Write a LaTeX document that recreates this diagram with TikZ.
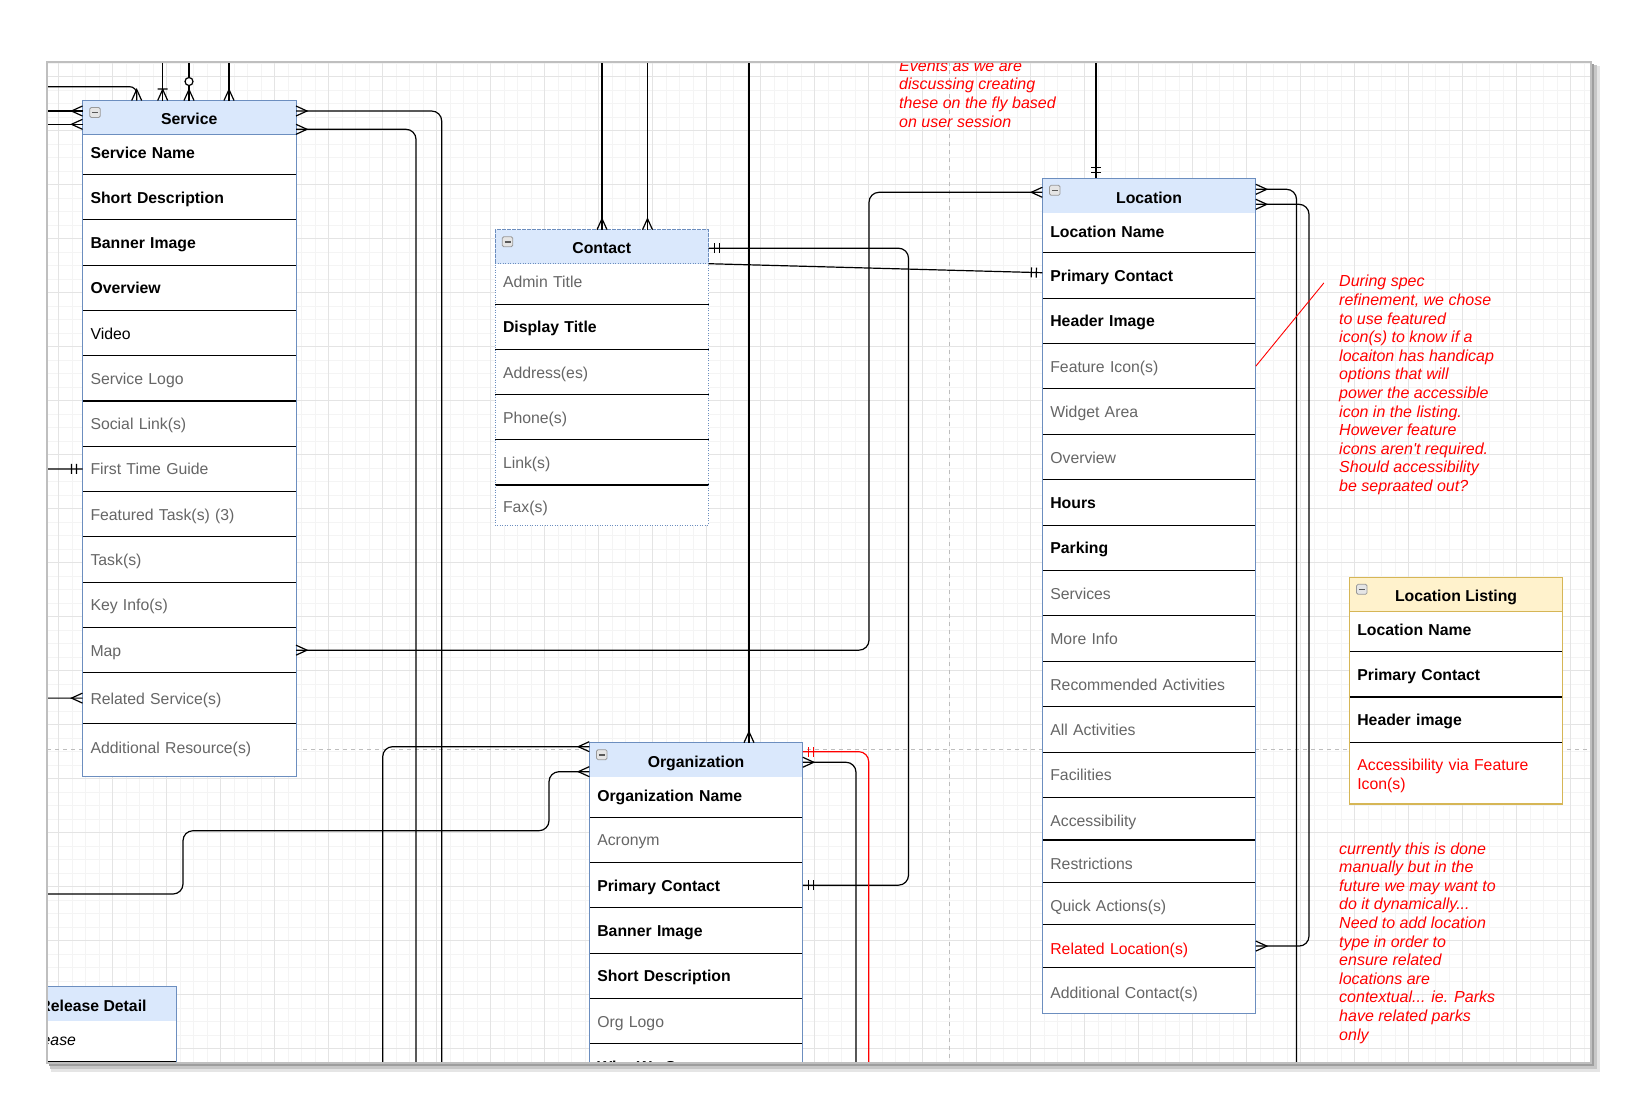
\documentclass[tikz,border=0pt]{standalone}
\usepackage{fontspec}
\setmainfont{Liberation Sans}[Ligatures=TeXOff]
\usetikzlibrary{positioning,calc}

\definecolor{tblblue}{HTML}{6C8EBF}
\definecolor{headblue}{HTML}{DAE8FC}
\definecolor{tblgold}{HTML}{D6B656}
\definecolor{headgold}{HTML}{FFF2CC}
\definecolor{txtgrey}{HTML}{666666}
\definecolor{gridlo}{HTML}{F4F4F4}
\definecolor{gridhi}{HTML}{E4E4E4}
\definecolor{guidegrey}{HTML}{BDBDBD}

\pgfdeclarearrow{
  name = crow,
  setup code = {\pgfarrowssettipend{0pt}\pgfarrowssetlineend{0pt}
    \pgfarrowssetbackend{-11pt}\pgfarrowssetvisualbackend{-11pt}},
  drawing code = {\pgfsetdash{}{0pt}
    \pgfpathmoveto{\pgfqpoint{0pt}{5pt}}\pgfpathlineto{\pgfqpoint{-11pt}{0pt}}
    \pgfpathlineto{\pgfqpoint{0pt}{-5pt}}\pgfusepathqstroke}
}
\pgfdeclarearrow{
  name = bars,
  setup code = {\pgfarrowssettipend{0pt}\pgfarrowssetlineend{0pt}
    \pgfarrowssetbackend{-12pt}\pgfarrowssetvisualbackend{-12pt}},
  drawing code = {\pgfsetdash{}{0pt}
    \pgfpathmoveto{\pgfqpoint{-6pt}{5pt}}\pgfpathlineto{\pgfqpoint{-6pt}{-5pt}}
    \pgfpathmoveto{\pgfqpoint{-11pt}{5pt}}\pgfpathlineto{\pgfqpoint{-11pt}{-5pt}}
    \pgfusepathqstroke}
}
\pgfdeclarearrow{
  name = onecrow,
  setup code = {\pgfarrowssettipend{0pt}\pgfarrowssetlineend{0pt}
    \pgfarrowssetbackend{-12pt}\pgfarrowssetvisualbackend{-12pt}},
  drawing code = {\pgfsetdash{}{0pt}
    \pgfpathmoveto{\pgfqpoint{0pt}{5pt}}\pgfpathlineto{\pgfqpoint{-11pt}{0pt}}
    \pgfpathlineto{\pgfqpoint{0pt}{-5pt}}
    \pgfpathmoveto{\pgfqpoint{-11.5pt}{5pt}}\pgfpathlineto{\pgfqpoint{-11.5pt}{-5pt}}
    \pgfusepathqstroke}
}
\pgfdeclarearrow{
  name = zerocrow,
  setup code = {\pgfarrowssettipend{0pt}\pgfarrowssetlineend{0pt}
    \pgfarrowssetbackend{-23pt}\pgfarrowssetvisualbackend{-23pt}},
  drawing code = {\pgfsetdash{}{0pt}
    \pgfpathmoveto{\pgfqpoint{0pt}{5pt}}\pgfpathlineto{\pgfqpoint{-11pt}{0pt}}
    \pgfpathlineto{\pgfqpoint{0pt}{-5pt}}\pgfusepathqstroke
    \pgfsetfillcolor{white}
    \pgfpathcircle{\pgfqpoint{-19pt}{0pt}}{4pt}\pgfusepathqfillstroke}
}

\tikzset{
  tblhead/.style={rectangle, draw=tblblue, fill=headblue, line width=1pt,
    anchor=north west, minimum width=213.5pt, minimum height=34pt,
    inner sep=0pt, outer sep=0pt, text height=14.5pt, text depth=0pt,
    font=\fontsize{15.8}{19}\selectfont\bfseries},
  tblrow/.style={rectangle, fill=white, inner xsep=8pt, inner ysep=0pt,
    outer sep=0pt, text width=197.5pt, minimum height=45.3pt, align=left,
    text height=12pt, text depth=0pt, font=\fontsize{15.8}{19}\selectfont},
  keyrow/.style={tblrow, font=\fontsize{15.8}{19}\selectfont\bfseries},
  greyrow/.style={tblrow, text=txtgrey},
  redrow/.style={tblrow, text=red},
  toprow/.style={minimum height=40pt, text depth=4pt},
  lowrow/.style={text height=16pt},
  sepline/.style={draw=black, line width=1.1pt},
  tblline/.style={draw=tblblue, line width=1pt},
  minusbox/.style={rectangle, draw=black!40, fill=black!10, rounded corners=1.5pt,
    minimum width=10.5pt, minimum height=10pt, inner sep=0pt, line width=0.8pt,
    path picture={\draw[black!65, line width=1.6pt]
      ([xshift=-3pt]path picture bounding box.center) --
      ([xshift=3pt]path picture bounding box.center);}},
  conn/.style={draw=black, line width=1.2pt, rounded corners=10pt},
  guide/.style={draw=guidegrey, line width=0.9pt, dash pattern=on 4pt off 4pt},
  gridminor/.style={draw=gridlo, line width=1pt},
  gridmajor/.style={draw=gridhi, line width=1pt},
  note/.style={anchor=north west, inner sep=0pt, align=left, text=red,
    font=\fontsize{16}{18.6}\selectfont\itshape}
}

\begin{document}
\begin{tikzpicture}[x=1pt,y=-1pt]
  \useasboundingbox[fill=white] (0,0) rectangle (1645,1093);
  \fill[black!10] (51,66) rectangle (1600,1072);
  \fill[black!22] (50,65) rectangle (1597,1069);
  \fill[black!38] (49,64) rectangle (1594,1066);
  \fill[white] (47,62) rectangle (1591,1063);

  \begin{scope}
    \clip (47,62) rectangle (1591,1063);
    \foreach \i in {0,...,117} \draw[gridminor] ({4.7+13.5*\i},62) -- ({4.7+13.5*\i},1063);
    \foreach \j in {0,...,77} \draw[gridminor] (47,{22.7+13.5*\j}) -- (1591,{22.7+13.5*\j});
    \foreach \i in {0,...,29} \draw[gridmajor] ({4.7+54*\i},62) -- ({4.7+54*\i},1063);
    \foreach \j in {0,...,19} \draw[gridmajor] (47,{22.7+54*\j}) -- (1591,{22.7+54*\j});
    \draw[guide] (949,62) -- (949,1063);
    \draw[guide] (47,749) -- (1591,749);

    \node[tblhead] (svc) at (82.5,100.5) {Service};
    \node[keyrow, toprow, below=0pt of svc] (svc1) {Service Name};
    \node[keyrow, below=0pt of svc1] (svc2) {Short Description};
    \node[keyrow, below=0pt of svc2] (svc3) {Banner Image};
    \node[keyrow, below=0pt of svc3] (svc4) {Overview};
    \node[tblrow, below=0pt of svc4] (svc5) {Video};
    \node[greyrow, below=0pt of svc5] (svc6) {Service Logo};
    \node[greyrow, below=0pt of svc6] (svc7) {Social Link(s)};
    \node[greyrow, below=0pt of svc7] (svc8) {First Time Guide};
    \node[greyrow, below=0pt of svc8] (svc9) {Featured Task(s) (3)};
    \node[greyrow, below=0pt of svc9] (svc10) {Task(s)};
    \node[greyrow, below=0pt of svc10] (svc11) {Key Info(s)};
    \node[greyrow, below=0pt of svc11] (svc12) {Map};
    \node[greyrow, minimum height=50.6pt, below=0pt of svc12] (svc13) {Related Service(s)};
    \node[greyrow, minimum height=53.4pt, text depth=6pt, below=0pt of svc13] (svc14) {Additional Resource(s)};
    \foreach \i in {1,...,13} \draw[sepline] (svc\i.south west) -- (svc\i.south east);
    \draw[tblline] (svc.north west) rectangle (svc14.south east);
    \node[minusbox] (svcI) at ([xshift=12.5pt,yshift=-12pt]svc.north west) {};

    \node[tblhead, dash pattern=on 1pt off 1.5pt] (con) at (495,229.7) {Contact};
    \node[greyrow, toprow, minimum height=40.5pt, below=0pt of con] (con1) {Admin Title};
    \node[keyrow, minimum height=45.2pt, below=0pt of con1] (con2) {Display Title};
    \node[greyrow, minimum height=45.2pt, below=0pt of con2] (con3) {Address(es)};
    \node[greyrow, minimum height=45.2pt, below=0pt of con3] (con4) {Phone(s)};
    \node[greyrow, minimum height=45.2pt, below=0pt of con4] (con5) {Link(s)};
    \node[greyrow, minimum height=40pt, text height=15pt, below=0pt of con5] (con6) {Fax(s)};
    \foreach \i in {1,...,5} \draw[sepline] (con\i.south west) -- (con\i.south east);
    \draw[tblline, dash pattern=on 1pt off 1.5pt] (con.north west) rectangle (con6.south east);
    \node[minusbox] (conI) at ([xshift=12.5pt,yshift=-12pt]con.north west) {};

    \node[tblhead, minimum height=34.5pt] (org) at (589.3,742.7) {Organization};
    \node[keyrow, toprow, below=0pt of org] (org1) {Organization Name};
    \node[greyrow, below=0pt of org1] (org2) {Acronym};
    \node[keyrow, below=0pt of org2] (org3) {Primary Contact};
    \node[keyrow, below=0pt of org3] (org4) {Banner Image};
    \node[keyrow, below=0pt of org4] (org5) {Short Description};
    \node[greyrow, below=0pt of org5] (org6) {Org Logo};
    \node[keyrow, below=0pt of org6] (org7) {Who We Serve};
    \foreach \i in {1,...,6} \draw[sepline] (org\i.south west) -- (org\i.south east);
    \draw[tblline] (org.north west) rectangle (org7.south east);
    \node[minusbox] (orgI) at ([xshift=12.5pt,yshift=-12pt]org.north west) {};

    \node[tblhead, minimum height=35pt] (loc) at (1042.3,178.3) {Location};
    \node[keyrow, toprow, minimum height=39.4pt, below=0pt of loc] (loc1) {Location Name};
    \node[keyrow, minimum height=45.4pt, below=0pt of loc1] (loc2) {Primary Contact};
    \node[keyrow, minimum height=45.4pt, below=0pt of loc2] (loc3) {Header Image};
    \node[greyrow, minimum height=45.4pt, below=0pt of loc3] (loc4) {Feature Icon(s)};
    \node[greyrow, minimum height=45.4pt, below=0pt of loc4] (loc5) {Widget Area};
    \node[greyrow, minimum height=45.4pt, below=0pt of loc5] (loc6) {Overview};
    \node[keyrow, minimum height=45.4pt, below=0pt of loc6] (loc7) {Hours};
    \node[keyrow, minimum height=45.4pt, below=0pt of loc7] (loc8) {Parking};
    \node[greyrow, minimum height=45.4pt, below=0pt of loc8] (loc9) {Services};
    \node[greyrow, minimum height=45.4pt, below=0pt of loc9] (loc10) {More Info};
    \node[greyrow, minimum height=45.4pt, below=0pt of loc10] (loc11) {Recommended Activities};
    \node[greyrow, minimum height=45.4pt, below=0pt of loc11] (loc12) {All Activities};
    \node[greyrow, minimum height=45.4pt, below=0pt of loc12] (loc13) {Facilities};
    \node[greyrow, lowrow, minimum height=42.45pt, below=0pt of loc13] (loc14) {Accessibility};
    \node[greyrow, lowrow, minimum height=42.45pt, below=0pt of loc14] (loc15) {Restrictions};
    \node[greyrow, lowrow, minimum height=42.45pt, below=0pt of loc15] (loc16) {Quick Actions(s)};
    \node[redrow, lowrow, minimum height=42.45pt, below=0pt of loc16] (loc17) {Related Location(s)};
    \node[greyrow, lowrow, minimum height=46pt, below=0pt of loc17] (loc18) {Additional Contact(s)};
    \foreach \i in {1,...,17} \draw[sepline] (loc\i.south west) -- (loc\i.south east);
    \draw[tblline] (loc.north west) rectangle (loc18.south east);
    \node[minusbox] (locI) at ([xshift=12.5pt,yshift=-12pt]loc.north west) {};

    \node[tblhead, draw=tblgold, fill=headgold, minimum height=34.4pt] (lst) at (1349.3,577.3) {Location Listing};
    \node[keyrow, toprow, below=0pt of lst] (lst1) {Location Name};
    \node[keyrow, below=0pt of lst1] (lst2) {Primary Contact};
    \node[keyrow, below=0pt of lst2] (lst3) {Header image};
    \node[redrow, minimum height=61.7pt, text depth=16.9pt, below=0pt of lst3] (lst4) {Accessibility via Feature\\Icon(s)};
    \foreach \i in {1,...,3} \draw[sepline] (lst\i.south west) -- (lst\i.south east);
    \draw[tblline, draw=tblgold, line width=1.2pt] (lst.north west) rectangle (lst4.south east);
    \node[minusbox] (lstI) at ([xshift=12.5pt,yshift=-12pt]lst.north west) {};

    \node[tblhead, minimum width=166pt, minimum height=34.3pt] (rel) at (10,986.7) {Release Detail};
    \node[tblrow, toprow, text width=150pt, minimum height=40.7pt,
      font=\fontsize{15.8}{19}\selectfont\itshape, below=0pt of rel] (rel1) {Release};
    \draw[sepline] (rel1.south west) -- (rel1.south east);
    \draw[tblline] (rel.north west) -- (rel.north east) -- (rel1.south east);

    \coordinate (svcTopIn) at (47,86.7); \coordinate (svcTopB) at (162.7,62);
    \coordinate (svcTopC) at (189,62); \coordinate (svcTopD) at (229,62);
    \coordinate (svcLeftA) at (47,111); \coordinate (svcLeftB) at (47,124.3);
    \coordinate (svcLeftC) at (47,469); \coordinate (svcLeftD) at (47,698.1);
    \coordinate (svcDownA) at (441.7,1063); \coordinate (svcDownB) at (416,1063);
    \coordinate (mapBend) at (869,192.3); \coordinate (conTopA) at (602,62);
    \coordinate (conTopB) at (647.5,62); \coordinate (orgTop) at (749,62);
    \coordinate (conBend) at (908.5,600); \coordinate (locTop) at (1096,62);
    \coordinate (locDown) at (1296.5,1063); \coordinate (locBend) at (1309,600);
    \coordinate (orgDownA) at (382.7,1063); \coordinate (orgLeftIn) at (47,894);
    \coordinate (stepA) at (183,830.7); \coordinate (stepB) at (549,771.7);
    \coordinate (orgDownB) at (856,1063); \coordinate (orgDownRed) at (868.7,1063);
    \coordinate (noteTip) at (1323.8,283);

    \draw[conn, -crow, rounded corners=7pt] (svcTopIn) -| ([xshift=54.2pt]svc.north west);
    \draw[conn, -onecrow] (svcTopB) -- (svcTopB |- svc.north);
    \draw[conn, -zerocrow] (svcTopC) -- (svcTopC |- svc.north);
    \draw[conn, -crow] (svcTopD) -- (svcTopD |- svc.north);
    \draw[conn, -crow] (svcLeftA) -- (svcLeftA -| svc.west);
    \draw[conn, -crow] (svcLeftB) -- (svcLeftB -| svc.west);
    \draw[conn, -bars] (svcLeftC) -- (svc8.west);
    \draw[conn, -crow] (svcLeftD) -- (svc13.west);
    \draw[conn, crow-] ([yshift=6.5pt]svc.east) -| (svcDownA);
    \draw[conn, crow-] ([yshift=-11.8pt]svc.east) -| (svcDownB);
    \draw[conn, crow-crow] (svc12.east) -| (mapBend) -- ([yshift=3.5pt]loc.west);
    \draw[conn, -crow] (conTopA) -- (conTopA |- con.north);
    \draw[conn, -crow] (conTopB) -- (conTopB |- con.north);
    \draw[conn, -crow] (orgTop) -- (orgTop |- org.north);
    \draw[conn, bars-bars] ([yshift=-1.5pt]con.east) -| (conBend) |- (org3.east);
    \draw[conn, -bars] (con.south east) -- ([yshift=2.7pt]loc2.west);
    \draw[conn, -bars] (locTop) -- (locTop |- loc.north);
    \draw[conn, crow-] ([yshift=6.5pt]loc.east) -| (locDown);
    \draw[conn, crow-crow] ([yshift=-8.5pt]loc.east) -| (locBend) |- (loc17.east);
    \draw[conn, -crow] (orgDownA) |- ([yshift=13.3pt]org.west);
    \draw[conn, -crow] (orgLeftIn) -| (stepA) -| (stepB) -- ([yshift=-11.7pt]org.west);
    \draw[conn, crow-] ([yshift=-2.3pt]org.east) -| (orgDownB);
    \draw[conn, draw=red, bars-] ([yshift=8.3pt]org.east) -| (orgDownRed);
    \draw[red, line width=0.9pt] (loc4.east) -- (noteTip);

    \node[note] (evNote) at (899,60) {Events as we are\\discussing creating\\these on the fly based\\on user session};
    \node[note] (specNote) at (1339,275) {During spec\\refinement, we chose\\to use featured\\icon(s) to know if a\\locaiton has handicap\\options that will\\power the accessible\\icon in the listing.\\However feature\\icons aren't required.\\Should accessibility\\be sepraated out?};
    \node[note] (typeNote) at (1339,842.3) {currently this is done\\manually but in the\\future we may want to\\do it dynamically...\\Need to add location\\type in order to\\ensure related\\locations are\\contextual... ie. Parks\\have related parks\\only};
  \end{scope}
  \draw[black!25, line width=1.5pt] (47,62) rectangle (1591,1063);
\end{tikzpicture}
\end{document}
